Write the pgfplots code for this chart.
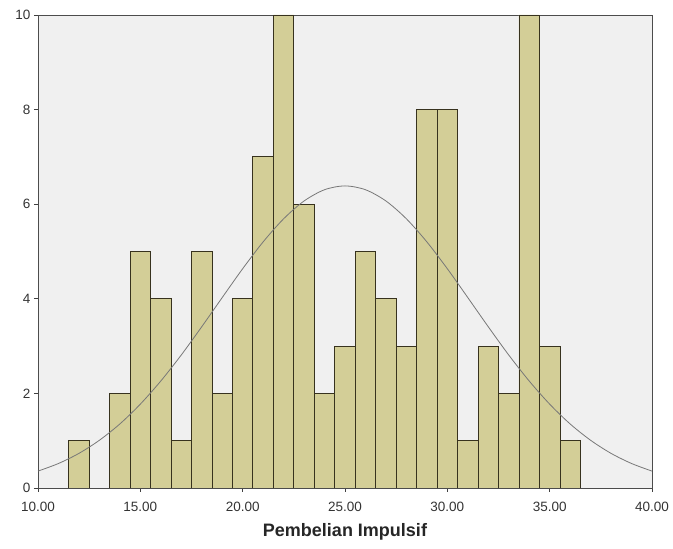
\documentclass[border=0pt]{standalone}
\usepackage{pgfplots}
\pgfplotsset{compat=1.18}
\usepackage{fontspec}
\setmainfont{Liberation Sans}

\definecolor{barfill}{RGB}{211,206,151}
\definecolor{baredge}{RGB}{55,50,30}
\definecolor{plotbg}{RGB}{240,240,240}
\definecolor{curve}{RGB}{120,120,120}

\begin{document}
\begin{tikzpicture}
\path (-38pt,-61pt) rectangle (635pt,488pt);
\begin{axis}[
    at={(0,0)}, anchor=south west,
    scale only axis,
    width=614pt, height=473pt,
    xmin=10, xmax=40,
    ymin=0, ymax=10,
    xtick={10,15,20,25,30,35,40},
    ytick={0,2,4,6,8,10},
    tick pos=left,
    tick align=outside,
    major tick length=4pt,
    tick style={black!75, line width=0.8pt},
    axis line style={black!70, line width=0.9pt},
    axis background/.style={fill=plotbg},
    /pgf/number format/assume math mode=true,
    xticklabel style={/pgf/number format/.cd, fixed, fixed zerofill, precision=2, /tikz/.cd, yshift=-7pt},
    ticklabel style={font=\fontsize{13.5pt}{15pt}\selectfont, text=black!80},
    xlabel={\textbf{Pembelian Impulsif}},
    xlabel style={font=\fontsize{18pt}{20pt}\selectfont, text=black!85, yshift=-5pt},
    clip=true,
]
% frequencies per integer score (bin width 1)
\addplot[ybar, bar width=1, bar shift=0pt, fill=barfill, draw=baredge, line width=0.8pt]
coordinates {
    (12,1) (14,2) (15,5) (16,4) (17,1) (18,5) (19,2) (20,4)
    (21,7) (22,10) (23,6) (24,2) (25,3) (26,5) (27,4) (28,3)
    (29,8) (30,8) (31,1) (32,3) (33,2) (34,10) (35,3) (36,1)
};
% normal curve (mean 25.00, sd 6.25, N=100)
\addplot[smooth, curve, line width=0.8pt]
coordinates {
    (10,0.357) (11,0.518) (12,0.732) (13,1.009) (14,1.354) (15,1.773)
    (16,2.262) (17,2.812) (18,3.409) (19,4.026) (20,4.636) (21,5.203)
    (22,5.691) (23,6.068) (24,6.306) (25,6.387) (26,6.306) (27,6.068)
    (28,5.691) (29,5.203) (30,4.636) (31,4.026) (32,3.409) (33,2.812)
    (34,2.262) (35,1.773) (36,1.354) (37,1.009) (38,0.732) (39,0.518)
    (40,0.357)
};
\end{axis}
\end{tikzpicture}
\end{document}
